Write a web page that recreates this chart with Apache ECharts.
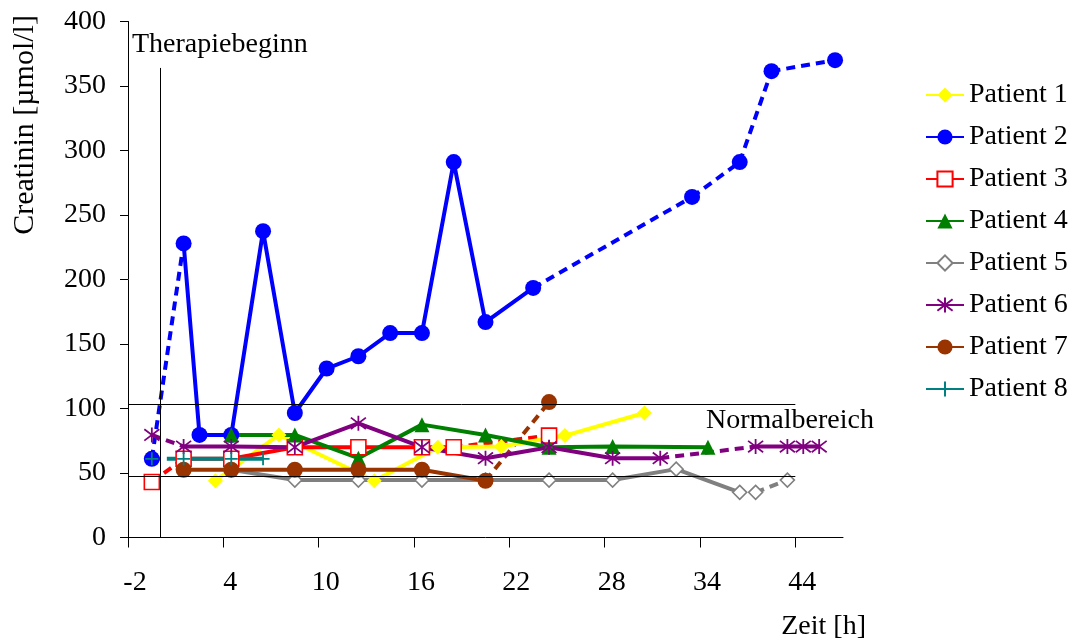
<!DOCTYPE html>
<html><head><meta charset="utf-8">
<script src="https://cdn.jsdelivr.net/npm/echarts@6/dist/echarts.min.js"></script>
<style>html,body{margin:0;padding:0;background:#fff}#c{width:1073px;height:639px}</style>
</head><body><div id="c"></div>
<script>
// ---- data ----
const xTickValues = [-2, 4, 10, 16, 22, 28, 34, 40];
const xTickLabels = ['-2', '4', '10', '16', '22', '28', '34', '44'];
const patientNames = ['Patient 1','Patient 2','Patient 3','Patient 4','Patient 5','Patient 6','Patient 7','Patient 8'];
const p1 = [[3.5,44],[7.5,79.5],[13.5,44],[17.5,70],[21.5,70.5],[25.5,79],[30.5,96.5]];
const p2 = [[-0.5,61],[1.5,228],[2.5,79.5],[4.5,79.5],[6.5,237.5],[8.5,96.5],[10.5,131],[12.5,140.5],[14.5,158.5],[16.5,158.5],[18.5,291],[20.5,167],[23.5,193.5],[33.5,264],[36.5,291],[38.5,361.5],[42.5,370]];
const p3 = [[-0.5,43],[1.5,61],[4.5,61],[8.5,70],[12.5,70],[16.5,70],[18.5,70],[24.5,79]];
const p4 = [[4.5,79.5],[8.5,79.5],[12.5,61.5],[16.5,87.5],[20.5,79.5],[24.5,70],[28.5,70.5],[34.5,70]];
const p5 = [[4.5,52.5],[8.5,44.5],[12.5,44.5],[16.5,44.5],[20.5,44.5],[24.5,44.5],[28.5,44.5],[32.5,53],[36.5,35],[37.5,35],[39.5,44.5]];
const p6 = [[-0.5,79.5],[1.5,70.5],[4.5,70.5],[8.5,70],[12.5,88.5],[16.5,70],[20.5,61.5],[24.5,70],[28.5,61.5],[31.5,61.5],[37.5,70.5],[39.5,70.5],[40.5,70.5],[41.5,70.5]];
const p7 = [[1.5,52.5],[4.5,52.5],[8.5,52.5],[12.5,52.5],[16.5,52.5],[20.5,44],[24.5,105]];
const p8 = [[-0.5,61],[1.5,61],[4.5,61],[6.5,61]];
const normalRange = [47.7, 103.5];
const normalRangeEnd = 40;
const therapyStart = 0;
const therapyLineTop = 364;

// ---- link styles (index i = segment from point i to i+1) ----
const dashedLinks = [[], [0,12,13,14,15], [0,6], [], [9], [0,9], [5], [0]];
const gapLinks = [[], [], [], [], [8], [], [], []];

const ASTERISK = 'path://M5,0L5,10M1.2,1.2L8.8,8.8M1.2,8.8L8.8,1.2';
const PLUS = 'path://M0,5L10,5M5,0L5,10';
const looks = [
  {color:'#FFFF00', symbol:'diamond', size:15},
  {color:'#0000FF', symbol:'circle', size:16},
  {color:'#FF0000', symbol:'rect', size:15, fill:'#FFFFFF', bw:1.6},
  {color:'#008000', symbol:'triangle', size:15},
  {color:'#808080', symbol:'diamond', size:14, fill:'#FFFFFF', bw:1.6},
  {color:'#800080', symbol:ASTERISK, size:15, bw:1.8},
  {color:'#993300', symbol:'circle', size:16},
  {color:'#008080', symbol:PLUS, size:13, bw:1.8}
];
const FONT = "'Liberation Serif','Times New Roman',serif";
const FS = 28;
const EMPTY = ['-', '-'];

const allData = [p1, p2, p3, p4, p5, p6, p7, p8];
const series = [];
// reference lines
series.push({
  type: 'line', data: [], silent: true, z: 1,
  markLine: {
    silent: true, symbol: ['none','none'], animation: false,
    label: {show: false},
    lineStyle: {color: '#000', width: 1, type: 'solid'},
    emphasis: {disabled: true},
    data: [
      [{coord: [xTickValues[0], normalRange[1]]}, {coord: [normalRangeEnd, normalRange[1]]}],
      [{coord: [xTickValues[0], normalRange[0]]}, {coord: [normalRangeEnd, normalRange[0]]}],
      [{coord: [therapyStart, 0]}, {coord: [therapyStart, therapyLineTop]}]
    ]
  }
});

allData.forEach((pts, k) => {
  const lk = looks[k];
  const dl = dashedLinks[k], gl = gapLinks[k];
  const solid = [];
  pts.forEach((p, i) => {
    if (i > 0 && (dl.includes(i-1) || gl.includes(i-1))) solid.push(EMPTY);
    solid.push(p);
  });
  if (dl.length) {
    const dashData = [];
    dl.forEach(j => { dashData.push(pts[j], pts[j+1], EMPTY); });
    series.push({
      name: patientNames[k] + ' (dashed)', type: 'line', data: dashData,
      symbol: 'none', silent: true, z: 2,
      lineStyle: {color: lk.color, width: 4, type: [9, 6]},
      emphasis: {disabled: true}
    });
  }
  series.push({
    name: patientNames[k], type: 'line', data: solid, z: 3,
    symbol: lk.symbol, symbolSize: lk.size, showSymbol: true, showAllSymbol: true,
    connectNulls: false,
    lineStyle: {color: lk.color, width: 4},
    itemStyle: {color: lk.fill || lk.color, borderColor: lk.color, borderWidth: lk.bw || 0},
    emphasis: {disabled: true}
  });
});

const chart = echarts.init(document.getElementById('c'), null, {renderer: 'canvas'});
chart.setOption({
  animation: false,
  backgroundColor: '#fff',
  textStyle: {fontFamily: FONT, color: '#000'},
  grid: {left: 128, right: 230, top: 21.5, bottom: 101.5, containLabel: false},
  xAxis: {
    type: 'value', min: -2, max: 43,
    axisLine: {show: true, onZero: false, lineStyle: {color: '#000', width: 1}},
    axisTick: {show: true, length: 10, lineStyle: {color: '#000'}, customValues: xTickValues},
    axisLabel: {
      customValues: xTickValues, margin: 31, fontSize: FS, fontFamily: FONT, color: '#000',
      padding: [0, 0, 0, 14],
      formatter: v => xTickLabels[xTickValues.indexOf(v)]
    },
    splitLine: {show: false}
  },
  yAxis: {
    type: 'value', min: 0, max: 400, interval: 50,
    axisLine: {show: true, onZero: false, lineStyle: {color: '#000', width: 1}},
    axisTick: {show: true, length: 8, lineStyle: {color: '#000'}},
    axisLabel: {margin: 22, fontSize: FS, fontFamily: FONT, color: '#000'},
    splitLine: {show: false}
  },
  legend: {
    data: patientNames, orient: 'vertical', left: 925, top: 81, padding: 0,
    itemWidth: 38, itemHeight: 19, itemGap: 14,
    textStyle: {fontFamily: FONT, fontSize: FS, color: '#000', lineHeight: 28},
    selectedMode: false
  },
  graphic: [
    {type: 'text', x: 132, y: 45, silent: true,
     style: {text: 'Therapiebeginn', font: FS + 'px ' + FONT, fill: '#000', textAlign: 'left', textVerticalAlign: 'middle'}},
    {type: 'text', x: 706, y: 421, silent: true,
     style: {text: 'Normalbereich', font: FS + 'px ' + FONT, fill: '#000', textAlign: 'left', textVerticalAlign: 'middle'}},
    {type: 'text', x: 866, y: 627, silent: true,
     style: {text: 'Zeit [h]', font: FS + 'px ' + FONT, fill: '#000', textAlign: 'right', textVerticalAlign: 'middle'}},
    {type: 'text', x: 25, y: 125, rotation: Math.PI / 2, silent: true,
     style: {text: 'Creatinin [µmol/l]', font: '30px ' + FONT, fill: '#000', textAlign: 'center', textVerticalAlign: 'middle'}}
  ],
  series: series
});
</script></body></html>
